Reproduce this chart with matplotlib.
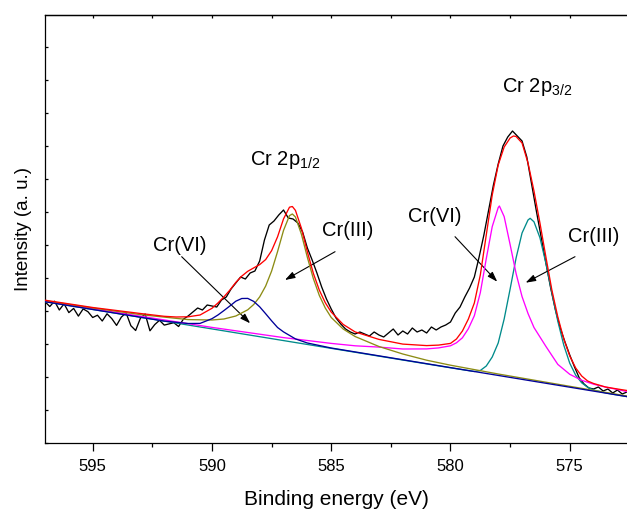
import matplotlib
matplotlib.use("Agg")
import matplotlib.pyplot as plt
from matplotlib.ticker import MultipleLocator

plt.rcParams['font.family'] = ['Liberation Sans', 'DejaVu Sans']

# ---------------- data (binding energy in eV, intensity in a.u.) ----------------
raw_be = [597.0, 596.8, 596.6, 596.4, 596.2, 596.0, 595.8, 595.6, 595.4, 595.2,
          595.0, 594.8, 594.6, 594.4, 594.2, 594.0, 593.8, 593.6, 593.4, 593.2,
          593.0, 592.8, 592.6, 592.4, 592.2, 592.0, 591.8, 591.6, 591.4, 591.2,
          591.0, 590.8, 590.6, 590.4, 590.2, 590.0, 589.8, 589.6, 589.4, 589.2,
          589.0, 588.8, 588.6, 588.4, 588.2, 588.0, 587.8, 587.6, 587.4, 587.2,
          587.0, 586.8, 586.6, 586.4, 586.2, 586.0, 585.8, 585.6, 585.4, 585.2,
          585.0, 584.8, 584.6, 584.4, 584.2, 584.0, 583.8, 583.6, 583.4, 583.2,
          583.0, 582.8, 582.6, 582.4, 582.2, 582.0, 581.8, 581.6, 581.4, 581.2,
          581.0, 580.8, 580.6, 580.4, 580.2, 580.0, 579.8, 579.6, 579.4, 579.2,
          579.0, 578.8, 578.6, 578.4, 578.2, 578.0, 577.8, 577.6, 577.4, 577.2,
          577.0, 576.8, 576.6, 576.4, 576.2, 576.0, 575.8, 575.6, 575.4, 575.2,
          575.0, 574.8, 574.6, 574.4, 574.2, 574.0, 573.8, 573.6, 573.4, 573.2,
          573.0, 572.8, 572.6]
raw_int = [141.3, 136.5, 141.8, 133.0, 139.2, 130.4, 134.6, 126.9, 134.1, 131.3,
           125.5, 127.8, 122.0, 129.2, 124.4, 117.6, 125.9, 130.1, 117.3, 112.5,
           124.8, 129.0, 112.2, 118.4, 122.7, 117.9, 119.1, 120.3, 116.5, 123.8,
           127.0, 131.0, 135.0, 133.0, 138.0, 137.0, 136.0, 143.0, 146.0, 154.0,
           160.0, 166.0, 164.0, 170.0, 172.0, 182.0, 203.0, 218.0, 222.0, 228.0,
           233.0, 225.0, 224.0, 220.0, 211.0, 195.0, 183.0, 170.0, 156.0, 144.0,
           134.0, 125.0, 119.0, 114.0, 111.0, 109.0, 111.0, 109.0, 107.0, 111.0,
           108.0, 106.0, 110.0, 114.0, 108.0, 112.0, 109.0, 115.0, 111.0, 113.0,
           110.0, 116.0, 113.0, 116.0, 118.0, 121.0, 130.0, 136.0, 146.0, 155.0,
           166.0, 186.0, 208.0, 233.0, 258.0, 279.0, 297.0, 306.0, 312.0, 307.0,
           302.0, 286.0, 259.0, 232.0, 206.0, 180.0, 155.0, 133.0, 115.0, 101.0,
           88.0, 76.0, 65.0, 59.0, 55.0, 54.0, 56.0, 52.0, 54.0, 50.0,
           53.0, 49.0, 51.0]

# fitted envelope
env_be = [597.0, 595.0, 593.0, 592.0, 591.5, 591.0, 590.5, 590.0, 589.75, 589.5,
          589.25, 589.0, 588.75, 588.5, 588.25, 588.0, 587.75, 587.5, 587.25, 587.0,
          586.75, 586.63, 586.5, 586.25, 586.0, 585.75, 585.5, 585.25, 585.0, 584.5,
          584.0, 583.0, 582.0, 581.0, 580.5, 580.0, 579.75, 579.5, 579.25, 579.0,
          578.75, 578.5, 578.25, 578.0, 577.75, 577.5, 577.36, 577.25, 577.0, 576.75,
          576.5, 576.25, 576.0, 575.75, 575.5, 575.25, 575.0, 574.75, 574.5, 574.25,
          574.0, 573.5, 573.0, 572.6]
env_int = [142.8, 135.5, 129.5, 126.7, 126.0, 126.2, 128.0, 134.7, 140.0, 146.1,
           152.9, 160.6, 166.9, 171.7, 175.1, 178.4, 183.4, 192.3, 206.2, 224.1,
           235.8, 236.5, 232.6, 214.8, 191.1, 169.7, 152.9, 140.3, 130.9, 118.6,
           111.1, 103.6, 98.9, 97.4, 97.9, 99.6, 104.0, 112.0, 124.0, 140.0,
           168.0, 208.0, 248.0, 278.0, 296.0, 305.0, 307.0, 306.5, 300.0, 280.0,
           252.0, 220.0, 186.0, 153.0, 126.0, 104.0, 87.0, 75.0, 67.0, 62.0,
           59.5, 56.0, 54.0, 52.5]

# Cr(VI) 2p1/2 component
c6a_be = [597.0, 592.0, 591.0, 590.5, 590.0, 589.75, 589.5, 589.25, 589.0, 588.75,
          588.5, 588.25, 588.0, 587.75, 587.5, 587.25, 587.0, 586.5, 586.0, 585.0,
          572.6]
c6a_int = [141.3, 121.9, 119.5, 119.6, 124.3, 128.0, 132.4, 137.0, 141.8, 144.5,
           144.6, 141.6, 136.2, 129.3, 122.2, 115.5, 111.1, 104.1, 100.0, 95.0,
           46.4]

# Cr(III) 2p1/2 component
c3a_be = [597.0, 595.0, 593.0, 591.0, 590.0, 589.5, 589.0, 588.5, 588.25, 588.0,
          587.75, 587.5, 587.25, 587.0, 586.75, 586.63, 586.5, 586.25, 586.0, 585.75,
          585.5, 585.25, 585.0, 584.5, 584.0, 583.0, 582.0, 581.0, 580.0, 578.0,
          576.0, 574.0, 572.6]
c3a_int = [142.3, 135.0, 128.4, 123.4, 123.0, 124.0, 127.0, 133.2, 138.5, 146.1,
           156.9, 171.9, 191.4, 212.6, 227.4, 229.0, 226.0, 208.8, 185.6, 164.4,
           147.6, 135.0, 125.5, 114.0, 106.5, 96.5, 89.0, 82.8, 77.8, 69.0,
           60.8, 52.6, 47.0]

# Cr(VI) 2p3/2 component
c6b_be = [597.0, 593.0, 590.0, 589.0, 587.0, 586.0, 585.0, 584.0, 583.0, 582.0,
          581.0, 580.5, 580.0, 579.75, 579.5, 579.25, 579.0, 578.75, 578.5, 578.25,
          578.0, 577.95, 577.75, 577.5, 577.25, 577.0, 576.75, 576.5, 576.0, 575.5,
          575.0, 574.5, 574.0, 573.5, 573.0, 572.6]
c6b_int = [141.8, 126.8, 115.6, 112.2, 105.4, 102.5, 99.6, 97.2, 95.9, 94.0,
           94.1, 95.1, 97.2, 100.2, 105.2, 114.3, 127.3, 150.3, 184.3, 216.4,
           235.4, 237.0, 226.4, 198.4, 169.5, 146.4, 129.5, 115.5, 96.6, 78.6,
           68.7, 62.7, 58.8, 55.9, 53.5, 51.4]

# Cr(III) 2p3/2 component
c3b_be = [597.0, 580.0, 579.5, 579.0, 578.75, 578.5, 578.25, 578.0, 577.75, 577.5,
          577.25, 577.0, 576.75, 576.66, 576.5, 576.25, 576.0, 575.75, 575.5, 575.25,
          575.0, 574.75, 574.5, 574.25, 574.0, 573.5, 573.0, 572.6]
c3b_int = [141.3, 75.2, 73.3, 71.5, 72.5, 77.0, 86.0, 100.0, 124.0, 154.0,
           185.0, 210.0, 223.0, 224.7, 221.2, 205.3, 179.8, 150.3, 121.7, 97.8,
           79.8, 67.8, 60.2, 55.7, 53.0, 50.1, 48.0, 46.4]

x_ticks = [595, 590, 585, 580, 575]

# ---------------- figure ----------------
fig = plt.figure(figsize=(6.27, 5.09), dpi=100)
ax = fig.add_axes([45/627, 66/509, 582/627, 428/509])

lw = 0.95
ax.plot(raw_be, raw_int, color='black', lw=lw, zorder=2)
ax.plot(c3b_be, c3b_int, color='#008b8b', lw=lw, zorder=3)
ax.plot(c6b_be, c6b_int, color='#ff00ff', lw=lw, zorder=3.1)
ax.plot(c3a_be, c3a_int, color='#8c8c14', lw=lw, zorder=3.2)
ax.plot(c6a_be, c6a_int, color='#000099', lw=lw, zorder=3.3)
ax.plot(env_be, env_int, color='#ff0000', lw=lw, zorder=3.4)

ax.set_xlim(597.0, 572.6)
ax.set_ylim(0, 428)

ax.set_xticks(x_ticks)
ax.set_xticklabels([str(t) for t in x_ticks])
ax.xaxis.set_minor_locator(MultipleLocator(2.5))
ax.tick_params(axis='x', which='major', direction='out', length=5.8, width=0.9,
               labelsize=12, pad=5.5, colors='black')
ax.tick_params(axis='x', which='minor', direction='out', length=2.9, width=0.9)
ax.yaxis.set_major_locator(MultipleLocator(33))
ax.tick_params(axis='y', which='major', direction='in', length=2.5, width=0.9,
               labelleft=False)

sec = ax.secondary_xaxis('top')
sec.set_xticks(x_ticks)
sec.xaxis.set_minor_locator(MultipleLocator(2.5))
sec.tick_params(which='both', direction='in', length=2.2, width=0.9, labeltop=False)

for s in ['left', 'bottom', 'top']:
    ax.spines[s].set_linewidth(0.9)
ax.spines['right'].set_visible(False)
sec.spines['top'].set_linewidth(0.9)

ax.set_xlabel('Binding energy (eV)', fontsize=15, labelpad=12)
ax.set_ylabel('Intensity (a. u.)', fontsize=13.5, labelpad=9)

fs = 14.5
ax.text(586.93, 278, r'Cr 2p$_{\mathregular{1/2}}$', fontsize=fs, ha='center', va='baseline')
ax.text(576.35, 351.3, r'Cr 2p$_{\mathregular{3/2}}$', fontsize=fs, ha='center', va='baseline')

ax.text(591.34, 198, 'Cr(VI)', fontsize=fs, ha='center', va='center')
ax.text(584.30, 213, 'Cr(III)', fontsize=fs, ha='center', va='center')
ax.text(580.65, 227, 'Cr(VI)', fontsize=fs, ha='center', va='center')
ax.text(573.98, 207, 'Cr(III)', fontsize=fs, ha='center', va='center')

arrow = dict(arrowstyle='-|>,head_length=0.6,head_width=0.2', color='black',
             lw=0.8, mutation_scale=10, shrinkA=0, shrinkB=0)
ax.annotate('', xy=(588.40, 119.7), xytext=(591.27, 186.3), arrowprops=arrow)
ax.annotate('', xy=(586.94, 163.0), xytext=(584.84, 191.3), arrowprops=arrow)
ax.annotate('', xy=(578.04, 161.3), xytext=(579.81, 206.3), arrowprops=arrow)
ax.annotate('', xy=(576.85, 160.3), xytext=(574.78, 186.3), arrowprops=arrow)

fig.savefig('out.png', dpi=100)
